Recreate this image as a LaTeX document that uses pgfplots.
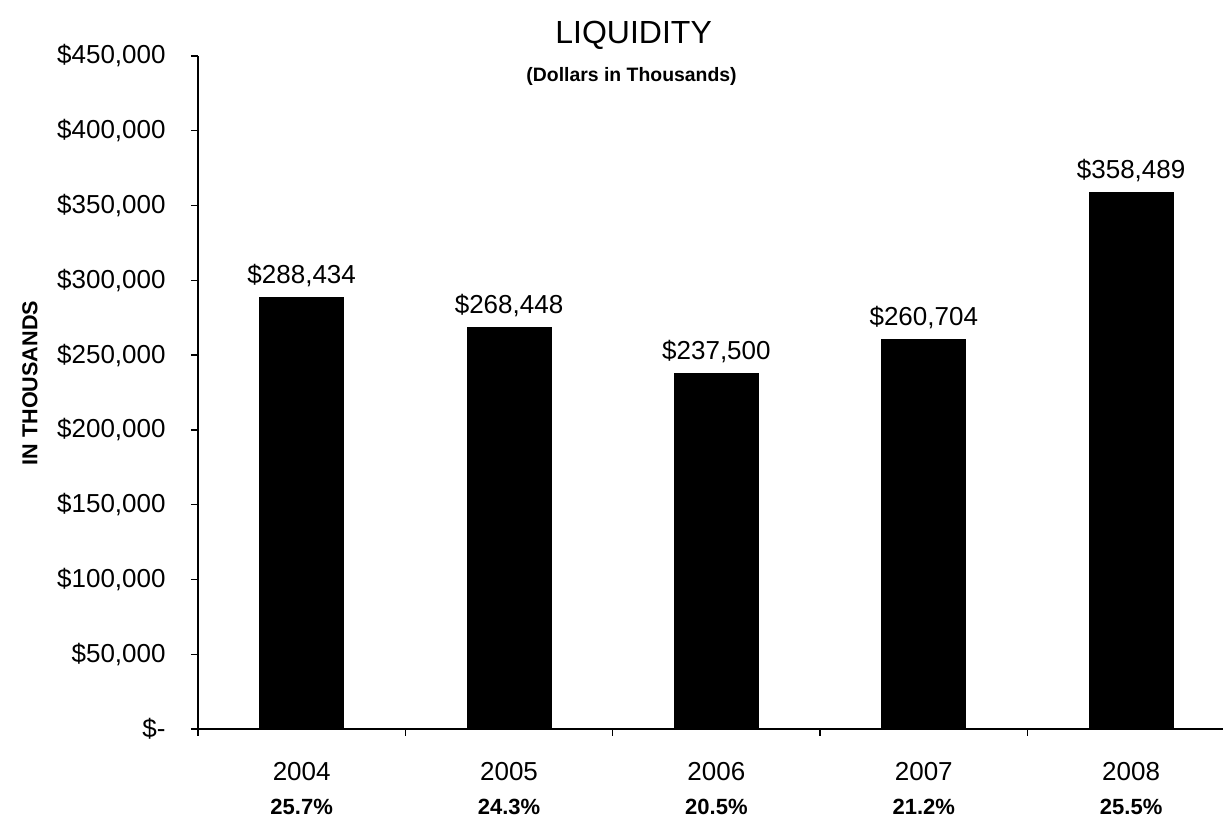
\documentclass[border=0pt]{standalone}
\usepackage{fontspec}
\setmainfont{Liberation Sans}
\usepackage{pgfplots}
\pgfplotsset{compat=1.18}
\begin{document}
\begin{tikzpicture}
\useasboundingbox (0,0) rectangle (611.5pt,409pt);
\begin{axis}[
  at={(99pt,44.5pt)}, anchor=south west,
  scale only axis, width=512.5pt, height=336.5pt,
  ybar, bar width=42pt,
  xmin=-0.5, xmax=4.443, ymin=0, ymax=450000,
  scaled y ticks=false,
  axis x line*=bottom, axis y line*=left,
  axis line style={line width=0.7pt},
  tick align=outside,
  major tick length=3.5pt,
  tick style={black, line width=0.7pt},
  clip=false,
  ytick={0,50000,...,450000},
  yticklabels={\$-,{\$50,000},{\$100,000},{\$150,000},{\$200,000},{\$250,000},{\$300,000},{\$350,000},{\$400,000},{\$450,000}},
  yticklabel style={font=\fontsize{13}{15}\selectfont, anchor=east, inner sep=0pt, xshift=-12.5pt},
  xtick={-0.5,0.5,1.5,2.5,3.5},
  xticklabels={},
  extra x ticks={0,1,2,3,4},
  extra x tick labels={
    {2004\\[2pt]\fontsize{11}{13}\selectfont\bfseries 25.7\%},
    {2005\\[2pt]\fontsize{11}{13}\selectfont\bfseries 24.3\%},
    {2006\\[2pt]\fontsize{11}{13}\selectfont\bfseries 20.5\%},
    {2007\\[2pt]\fontsize{11}{13}\selectfont\bfseries 21.2\%},
    {2008\\[2pt]\fontsize{11}{13}\selectfont\bfseries 25.5\%}},
  extra x tick style={major tick length=0pt},
  xticklabel style={font=\fontsize{13}{15}\selectfont, align=center, anchor=north, inner sep=0pt, yshift=-16.3pt},
  ylabel={IN THOUSANDS},
  ylabel style={font=\fontsize{10.8}{13}\selectfont\bfseries, at={(axis description cs:-0.164,0.514)}, anchor=center},
  point meta=explicit symbolic,
  nodes near coords={\$\pgfplotspointmeta},
  nodes near coords style={font=\fontsize{13}{15}\selectfont, anchor=base, inner sep=0pt, yshift=7pt},
]
\addplot[fill=black, draw=black] coordinates {
  (0,288434) [288,434]
  (1,268448) [268,448]
  (2,237500) [237,500]
  (3,260704) [260,704]
  (4,358489) [358,489]
};
\node[font=\fontsize{16}{19}\selectfont] at (axis description cs:0.425,1.031) {LIQUIDITY};
\node[font=\fontsize{9.7}{12}\selectfont\bfseries] at (axis description cs:0.423,0.969) {(Dollars in Thousands)};
\end{axis}
\end{tikzpicture}
\end{document}
